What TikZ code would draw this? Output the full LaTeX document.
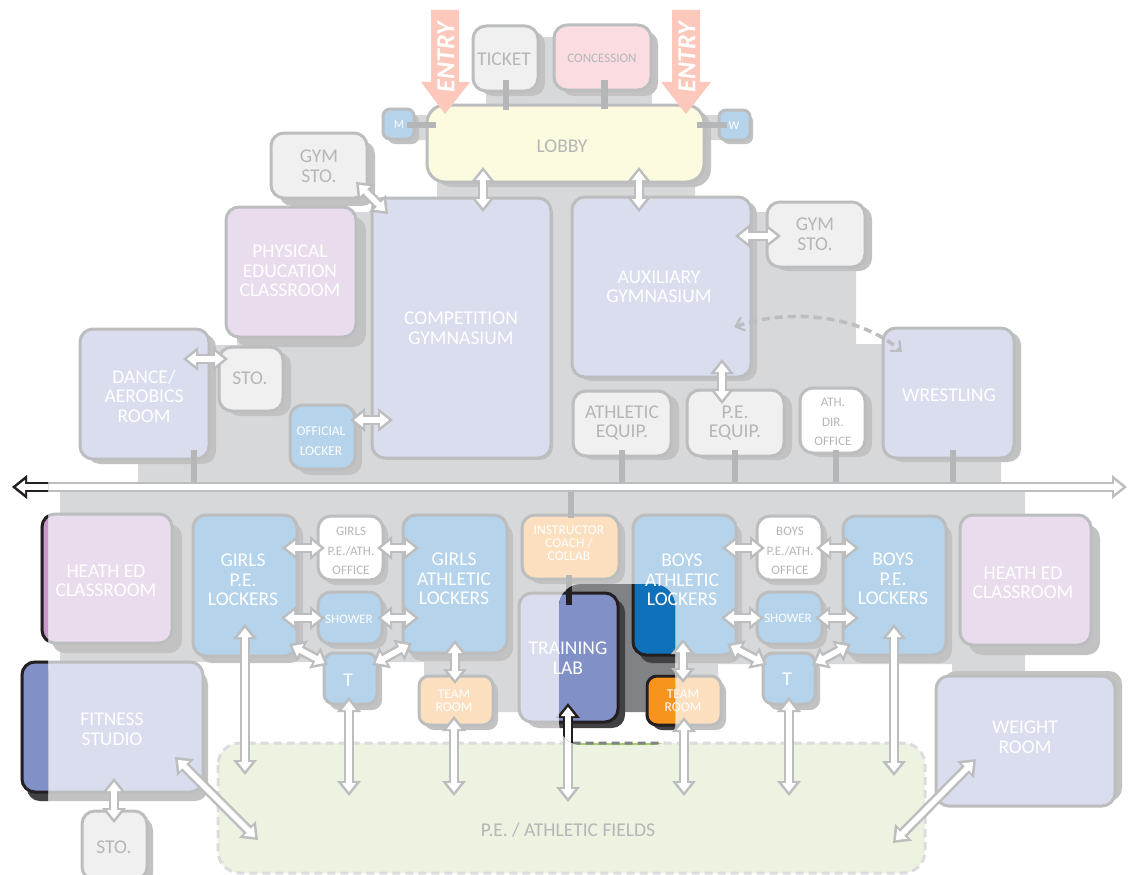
\documentclass[tikz,border=0pt]{standalone}
\usepackage{fontspec}
\setmainfont{Carlito}
\usetikzlibrary{arrows.meta}
\definecolor{bgc}{HTML}{D7D8DA}
\definecolor{borderc}{HTML}{BCBDBF}
\definecolor{shadowc}{HTML}{C2C2C2}
\definecolor{stubc}{HTML}{B5B6B8}
\definecolor{lav}{HTML}{D9DDEE}
\definecolor{bluel}{HTML}{B5D3EA}
\definecolor{pinkl}{HTML}{E9DCEC}
\definecolor{concc}{HTML}{FBDDE1}
\definecolor{greyf}{HTML}{F0F0F0}
\definecolor{lobbyc}{HTML}{FCFBE0}
\definecolor{orangel}{HTML}{FCDFBE}
\definecolor{fieldc}{HTML}{ECF3E0}
\definecolor{fielddash}{HTML}{DCDCDE}
\definecolor{entryc}{HTML}{FBC8BB}
\definecolor{txg}{HTML}{B5B6B8}
\definecolor{darkbg}{HTML}{808285}
\definecolor{darksh}{HTML}{414042}
\definecolor{darkln}{HTML}{231F20}
\definecolor{satlav}{HTML}{8290C8}
\definecolor{satblue}{HTML}{0E71B9}
\definecolor{satorange}{HTML}{F7941D}
\definecolor{satpink}{HTML}{C79AC9}
\definecolor{satfield}{HTML}{A6CE6B}
\newcommand\rr{13}
\tikzset{
  roombox/.style={draw=borderc,line width=3pt,rounded corners=\rr pt,inner sep=0pt,outer sep=0pt},
  big/.style={font=\fontsize{19.5}{19.5}\selectfont,align=center,inner sep=0pt,yshift=-1pt},
  small/.style={font=\fontsize{13}{19.5}\selectfont,align=center,inner sep=0pt,yshift=-1pt},
  tiny/.style={font=\fontsize{13.5}{13}\selectfont,align=center,inner sep=0pt,yshift=-1pt},
  offi/.style={font=\fontsize{13.5}{20}\selectfont,align=center,inner sep=0pt,yshift=-1pt},
  tw/.style={text=white},
  tg/.style={text=txg},
  stub/.style={draw=stubc,line width=6.5pt},
  twoway/.style={draw=#1,line width=10.5pt,{Triangle[length=15pt,width=23pt]}-{Triangle[length=15pt,width=23pt]},
    postaction={draw=white,line width=5.5pt,{Triangle[length=9pt,width=13.5pt]}-{Triangle[length=9pt,width=13.5pt]},shorten <=4pt,shorten >=4pt}},
  twoway/.default=borderc,
  dashlink/.style={draw=borderc,line width=3.5pt,dash pattern=on 8pt off 5pt,{Straight Barb[length=8pt,width=14pt,line width=2.2pt]}-{Straight Barb[length=8pt,width=14pt,line width=2.2pt]}},
  entryarrow/.style={fill=entryc},
  entrytext/.style={font=\fontsize{26}{26}\bfseries\itshape\selectfont,text=white,rotate=90,inner sep=0pt}
}
% room: name x1 y1 x2 y2 shadow-dx shadow-dy fill
\newcommand\room[8]{%
  \fill[shadowc,rounded corners=\rr pt] (#2+#6,#3+#7) rectangle (#4+#6,#5+#7);
  \node[roombox,fill=#8,minimum width={(#4-#2)*1pt},minimum height={(#5-#3)*1pt}] (#1) at ({(#2+#4)/2},{(#3+#5)/2}) {};}
% saturated copy used inside the clipped windows
\newcommand\satroom[7]{%
  \fill[darksh,rounded corners=\rr pt] (#1+#5,#2+#6) rectangle (#3+#5,#4+#6);
  \draw[fill=#7,draw=darkln,line width=3pt,rounded corners=\rr pt] (#1,#2) rectangle (#3,#4);}
\newcommand\conn[3]{%
  \coordinate (#1-a) at (#2); \coordinate (#1-b) at (#3);
  \draw[twoway] (#1-a) -- (#1-b);}
\newcommand\stublink[3]{%
  \coordinate (#1-a) at (#2); \coordinate (#1-b) at (#3);
  \draw[stub] (#1-a) -- (#1-b);}
\newcommand\lowerband{(60,490) -- (1025,490) -- (1025,672) -- (952,672) -- (952,664) -- (718,664) -- (718,712) -- (424,712) -- (424,662) -- (60,662) -- cycle}
\begin{document}
\begin{tikzpicture}[x=1pt,y=-1pt]
\useasboundingbox (0,0) rectangle (1138,875);
\fill[white] (0,0) rectangle (1138,875);
% building floor
\fill[bgc] (486,37) rectangle (652,110) (412,115) rectangle (430,140) (700,115) rectangle (725,140);
\fill[bgc] (138,487) -- (138,455) -- (215,455) -- (215,345) -- (237,345) -- (237,212) -- (372,212) -- (372,198) -- (437,198) -- (437,170) -- (695,170) -- (695,212) -- (856,212) -- (856,344) -- (883,344) -- (883,400) -- (1001,400) -- (1001,487) -- cycle;
\fill[bgc] \lowerband;
% fields
\draw[fill=fieldc,draw=fielddash,line width=3pt,dash pattern=on 8pt off 5pt,rounded corners=22pt] (218,743) rectangle (925,873);
\node[big,tg] (fieldsl) at (568,829) {P.E. / ATHLETIC FIELDS};
% rooms
\room{ticket}{473}{26}{538}{91}{7}{5}{greyf}
\room{conc}{554}{25}{651}{90}{7}{6}{concc}
\renewcommand\rr{18}
\room{lobby}{427}{105}{704}{182}{7}{5}{lobbyc}
\renewcommand\rr{7}
\room{men}{383}{109}{414}{139}{5}{5}{bluel}
\room{women}{719}{110}{750}{140}{3}{4}{bluel}
\renewcommand\rr{13}
\room{gymstol}{271}{133}{367}{198}{8}{8}{greyf}
\room{phys}{226}{207}{356}{337}{10}{10}{pinkl}
\room{dance}{80}{329}{209}{459}{7}{5}{lav}
\room{stoa}{219}{347}{283}{411}{8}{5}{greyf}
\room{official}{290}{405}{355}{469}{7}{6}{bluel}
\room{comp}{372}{198}{551}{458}{2}{2}{lav}
\room{aux}{572}{197}{751}{377}{6}{4}{lav}
\room{gymstor}{767}{202}{865}{267}{7}{4}{greyf}
\room{atheq}{573}{391}{671}{456}{8}{4}{greyf}
\room{peeq}{687}{390}{784}{456}{8}{4}{greyf}
\room{athdir}{800}{388}{865}{453}{7}{4}{white}
\room{wrest}{883}{328}{1014}{458}{7}{4}{lav}
\room{heal}{42}{514}{172}{643}{10}{10}{pinkl}
\room{girlspe}{193}{515}{297}{656}{6}{7}{bluel}
\room{girlsoff}{318}{516}{383}{580}{5}{5}{white}
\room{girlssh}{318}{592}{382}{644}{5}{5}{bluel}
\renewcommand\rr{10}
\room{girlst}{324}{653}{377}{704}{5}{6}{bluel}
\renewcommand\rr{13}
\room{girlsath}{403}{515}{507}{653}{6}{8}{bluel}
\renewcommand\rr{10}
\room{teaml}{419}{676}{493}{725}{5}{5}{orangel}
\renewcommand\rr{13}
\room{instr}{522}{515}{619}{579}{6}{5}{orangel}
\room{train}{519}{593}{618}{722}{7}{6}{lav}
\room{boysath}{633}{515}{736}{655}{6}{8}{bluel}
\room{boysoff}{757}{516}{822}{580}{5}{5}{white}
\room{boyssh}{757}{592}{822}{644}{5}{5}{bluel}
\renewcommand\rr{10}
\room{boyst}{763}{653}{815}{704}{5}{6}{bluel}
\renewcommand\rr{13}
\room{boyspe}{843}{516}{946}{655}{6}{8}{bluel}
\room{hear}{960}{515}{1091}{645}{9}{10}{pinkl}
\room{weight}{936}{676}{1115}{806}{7}{-5}{lav}
\room{fit}{22}{662}{203}{792}{5}{9}{lav}
\room{stob}{82}{811}{147}{880}{6}{6}{greyf}
% stubs over the rooms
\stublink{sdance}{194,450}{194,484}
\stublink{sath}{622,450}{622,484}
\stublink{spe}{735,450}{735,484}
\stublink{sdir}{836,450}{836,484}
\stublink{swr}{953,450}{953,484}
\stublink{sinst}{571,490}{571,518}
\stublink{stick}{506,80}{506,110}
\stublink{sconc}{604.5,80}{604.5,109}
\stublink{smen}{407,125}{436,125}
\stublink{swom}{697,125}{727,125}
\stublink{strain}{569,575}{569,605}
% saturated window around the training lab
\begin{scope}
  \clip[rounded corners=22pt] (559,584) rectangle (675,745);
  \fill[white] (540,570) rectangle (690,760);
  \fill[darkbg] \lowerband;
  \draw[fill=satfield,draw=darkbg,line width=3pt,dash pattern=on 8pt off 5pt,rounded corners=22pt] (218,743) rectangle (925,873);
  \satroom{519}{593}{618}{722}{7}{6}{satlav}
  \satroom{633}{515}{736}{655}{6}{8}{satblue}
  \draw[stub,draw=darkln] (strain-a) -- (strain-b);
\end{scope}
% saturated strip at the far left
\begin{scope}
  \clip (0,0) rectangle (48,875);
  \satroom{42}{514}{172}{643}{10}{10}{satpink}
  \satroom{22}{662}{203}{792}{5}{9}{satlav}
\end{scope}
\renewcommand\rr{10}
\room{teamr}{647}{676}{721}{725}{5}{5}{orangel}
\begin{scope}
  \clip (640,660) rectangle (675,740);
  \satroom{647}{676}{721}{725}{5}{5}{satorange}
\end{scope}
\renewcommand\rr{13}
% two-way connectors
\conn{corr}{12,487}{1127,487}
\conn{a1}{483,167}{483,212}
\conn{a2}{639,167}{639,212}
\conn{a3}{356,182}{388,214}
\conn{a4}{735,236}{781,236}
\conn{a5}{183,359}{228,359}
\conn{a6}{350,420}{393,420}
\conn{a7}{722,359}{722,404}
\conn{a8}{282,548}{325,548}
\conn{a9}{377,548}{419,548}
\conn{a10}{281,618}{325,618}
\conn{a11}{377,618}{419,618}
\conn{a12}{289,644}{328,665}
\conn{a13}{372,665}{412,643}
\conn{a14}{349,697}{349,796}
\conn{a15}{455,640}{455,684}
\conn{a16}{454,716}{454,796}
\conn{a17}{245,624}{245,775}
\conn{a18}{175,757}{258,840}
\conn{a19}{114,778}{114,823}
\conn{a20}{568,703}{568,802}
\conn{a21}{683,639}{683,683}
\conn{a22}{684,717}{684,796}
\conn{a23}{722,548}{765,548}
\conn{a24}{816,548}{859,548}
\conn{a25}{721,618}{764,618}
\conn{a26}{815,618}{859,618}
\conn{a27}{727,644}{767,665}
\conn{a28}{812,665}{851,644}
\conn{a29}{789,697}{789,796}
\conn{a30}{894,624}{894,776}
\conn{a31}{976,759}{893,843}
\begin{scope}
  \clip[rounded corners=22pt] (559,584) rectangle (675,745);
  \draw[twoway=darkln] (a20-a) -- (a20-b);
\end{scope}
\begin{scope}
  \clip (0,0) rectangle (48,875);
  \draw[twoway=darkln] (corr-a) -- (corr-b);
\end{scope}
% dashed link
\coordinate (dl-a) at (734,327);
\coordinate (dl-b) at (902,352);
\draw[dashlink] (dl-a) .. controls (790,308) and (860,315) .. (dl-b);
% entry arrows
\fill[entryarrow] (431,10) -- (459,10) -- (459,82) -- (470,82) -- (445,114) -- (421,82) -- (431,82) -- cycle;
\fill[entryarrow] (672,10) -- (700,10) -- (700,82) -- (711,82) -- (686,114) -- (661,82) -- (672,82) -- cycle;
\node[entrytext] (entl) at (446,57) {ENTRY};
\node[entrytext] (entr) at (687,57) {ENTRY};
% labels
\node[big,tg] (l1) at (504,58) {TICKET};
\node[small,tg] (l2) at (602,57) {CONCESSION};
\node[big,tg] (l3) at (562,145) {LOBBY};
\node[font=\fontsize{12}{12}\selectfont,text=white,inner sep=0pt] (l4) at (399,125) {M};
\node[font=\fontsize{12}{12}\selectfont,text=white,inner sep=0pt] (l5) at (734,126) {W};
\node[big,tg] (l6) at (319,165) {GYM\\STO.};
\node[big,tw] (l7) at (290,270) {PHYSICAL\\EDUCATION\\CLASSROOM};
\node[big,tw] (l8) at (144,395) {DANCE/\\AEROBICS\\ROOM};
\node[big,tg] (l9) at (250,377) {STO.};
\node[offi,tw] (l10) at (321,440) {OFFICIAL\\LOCKER};
\node[big,tw] (l11) at (461,327) {COMPETITION\\GYMNASIUM};
\node[big,tw] (l12) at (659,286) {AUXILIARY\\GYMNASIUM};
\node[big,tg] (l13) at (815,233) {GYM\\STO.};
\node[big,tg] (l14) at (622,422) {ATHLETIC\\EQUIP.};
\node[big,tg] (l15) at (735,422) {P.E.\\EQUIP.};
\node[small,tg] (l16) at (833,421) {ATH.\\DIR.\\OFFICE};
\node[big,tw] (l17) at (949,394) {WRESTLING};
\node[big,tw] (l18) at (106,580) {HEATH ED\\CLASSROOM};
\node[big,tw] (l19) at (243,579) {GIRLS\\P.E.\\LOCKERS};
\node[small,tg] (l20) at (351,550) {GIRLS\\P.E./ATH.\\OFFICE};
\node[small,tw] (l21) at (349,618) {SHOWER};
\node[big,tw] (l22) at (348,679) {T};
\node[big,tw] (l23) at (454,578) {GIRLS\\ATHLETIC\\LOCKERS};
\node[tiny,tw] (l24) at (454,700) {TEAM\\ROOM};
\node[tiny,tw] (l25) at (569,542) {INSTRUCTOR\\COACH /\\COLLAB};
\node[big,tw] (l26) at (568,657) {TRAINING\\LAB};
\node[big,tw] (l27) at (682,579) {BOYS\\ATHLETIC\\LOCKERS};
\node[tiny,tw] (l28) at (683,700) {TEAM\\ROOM};
\node[small,tg] (l29) at (790,550) {BOYS\\P.E./ATH.\\OFFICE};
\node[small,tw] (l30) at (788,617) {SHOWER};
\node[big,tw] (l31) at (787,678) {T};
\node[big,tw] (l32) at (893,578) {BOYS\\P.E.\\LOCKERS};
\node[big,tw] (l33) at (1023,582) {HEATH ED\\CLASSROOM};
\node[big,tw] (l34) at (1025,736) {WEIGHT\\ROOM};
\node[big,tw] (l35) at (112,728) {FITNESS\\STUDIO};
\node[big,tg] (l36) at (114,846) {STO.};
\end{tikzpicture}
\end{document}
